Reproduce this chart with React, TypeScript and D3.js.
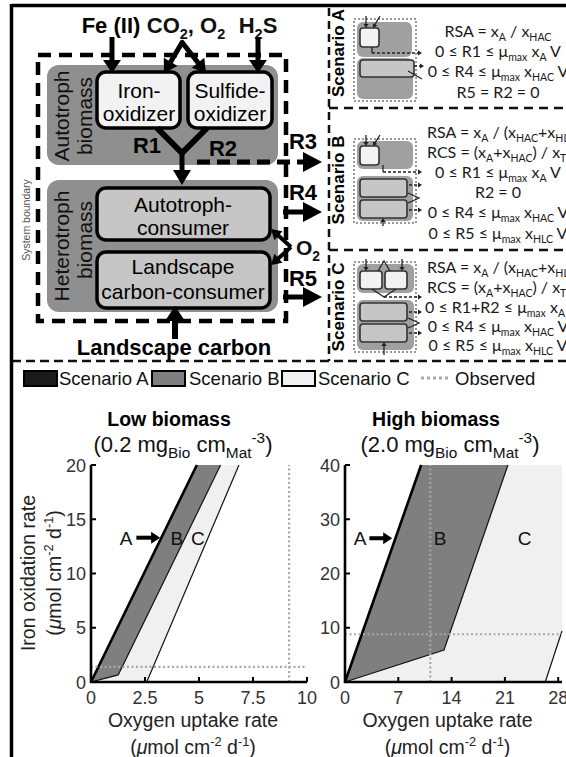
import React from 'react';
import * as d3 from 'd3';

// ---------------- DATA ----------------
const lowXTicks = [0, 2.5, 5, 7.5, 10];
const lowYTicks = [0, 5, 10, 15, 20];
const highXTicks = [0, 7, 14, 21, 28];
const highYTicks = [0, 10, 20, 30, 40];

// [oxygen uptake, iron oxidation]
const lowScenarioA = [[0, 0], [4.9, 20]];
const lowScenarioB = [[0, 0], [4.9, 20], [6.0, 20], [1.26, 0.65]];
const lowScenarioC = [[0, 0], [4.9, 20], [6.85, 20], [2.58, 0]];
const lowBEdge = [[0, 0], [1.26, 0.65], [6.0, 20]];
const lowCEdge = [[2.58, 0], [6.85, 20]];
const lowObserved = [9.17, 1.4];
const lowLabels = [
  { t: 'A', x: 1.62, y: 13.3 },
  { t: 'B', x: 3.98, y: 13.3 },
  { t: 'C', x: 4.95, y: 13.3 },
];
const lowArrow = [[2.1, 13.3], [3.2, 13.3]];

const highScenarioA = [[0, 0], [10.0, 40]];
const highScenarioB = [[0, 0], [10.0, 40], [21.4, 40], [13.0, 5.9]];
const highScenarioC = [[0, 0], [10.0, 40], [28.5, 40], [28.5, 9.4], [26.3, 0]];
const highBEdge = [[0, 0], [13.0, 5.9], [21.4, 40]];
const highCEdge = [[26.3, 0], [28.5, 9.4]];
const highObserved = [11.2, 8.8];
const highLabels = [
  { t: 'A', x: 1.97, y: 26.5 },
  { t: 'B', x: 12.5, y: 26.5 },
  { t: 'C', x: 23.6, y: 26.5 },
];
const highArrow = [[3.2, 26.5], [6.2, 26.5]];

const legendItems = ['Scenario A', 'Scenario B', 'Scenario C', 'Observed'];

// ---------------- STYLE ----------------
const FONT = "'Liberation Sans', Arial, sans-serif";
const EQFONT = "Lato, 'Open Sans', sans-serif";
const B_FILL = '#7f7f7f';
const C_FILL = '#f0f0f0';
const OBS = '#a8a8a8';
const BIO = '#8f8f8f';
const CONS = '#c6c6c6';
const OX = '#f2f2f2';

type Seg = string | { t: string; s?: 'sub' | 'sup'; i?: boolean };

function Rich({ x, y, segs, size, anchor = 'middle', weight = 'normal', family = FONT, fill = '#111', transform, subScale = 0.66 }: any) {
  let cur = 0;
  const spans = (segs as Seg[]).map((s, k) => {
    const obj = typeof s !== 'string';
    const txt = obj ? (s as any).t : s;
    const kind = obj ? (s as any).s : undefined;
    const target = kind === 'sub' ? size * 0.28 : kind === 'sup' ? -size * 0.42 : 0;
    const dy = target - cur;
    cur = target;
    return (
      <tspan key={k} dy={dy} fontSize={kind ? size * subScale : size} fontStyle={obj && (s as any).i ? 'italic' : 'normal'}>
        {txt}
      </tspan>
    );
  });
  return (
    <text x={x} y={y} textAnchor={anchor} fontWeight={weight} fontFamily={family} fill={fill} transform={transform} style={{ whiteSpace: 'pre' }}>
      {spans}
    </text>
  );
}

function Arrow({ x1, y1, x2, y2, sw = 5, hl = 14, hw = 9, dash, color = '#000' }: any) {
  const dx = x2 - x1, dy = y2 - y1;
  const L = Math.hypot(dx, dy);
  const ux = dx / L, uy = dy / L;
  const bx = x2 - ux * hl, by = y2 - uy * hl;
  const px = -uy, py = ux;
  return (
    <g>
      <line x1={x1} y1={y1} x2={bx + ux * 1} y2={by + uy * 1} stroke={color} strokeWidth={sw} strokeDasharray={dash} />
      <polygon points={`${x2},${y2} ${bx + px * hw},${by + py * hw} ${bx - px * hw},${by - py * hw}`} fill={color} />
    </g>
  );
}

const unitSegs: Seg[] = ['(', { t: 'μ', i: true }, 'mol cm', { t: '-2', s: 'sup' }, ' d', { t: '-1', s: 'sup' }, ')'];

function Panel({ xs, ys, xTicks, yTicks, A, Bp, Cp, Bedge, Cedge, obs, labels, arrow, cx, title, sub }: any) {
  const line = d3.line<number[]>().x(d => xs(d[0])).y(d => ys(d[1]));
  const [x0, x1] = xs.range();
  const [y0, y1] = ys.range();
  return (
    <g fontFamily={FONT}>
      <text x={cx - 14} y={426} textAnchor="middle" fontWeight="bold" fontSize={19.5}>{title}</text>
      <Rich x={cx} y={452} size={22} subScale={0.7} segs={sub} />
      <path d={line(Cp) + 'Z'} fill={C_FILL} />
      <path d={line(Bp) + 'Z'} fill={B_FILL} />
      <path d={line(Cedge)!} fill="none" stroke="#111" strokeWidth={1.2} />
      <path d={line(Bedge)!} fill="none" stroke="#111" strokeWidth={1.2} />
      <path d={line(A)!} fill="none" stroke="#000" strokeWidth={2.6} />
      <line x1={xs(obs[0])} x2={xs(obs[0])} y1={y0} y2={y1} stroke={OBS} strokeWidth={2.2} strokeDasharray="2 2.5" />
      <line x1={x0} x2={x1} y1={ys(obs[1])} y2={ys(obs[1])} stroke={OBS} strokeWidth={2.2} strokeDasharray="2 2.5" />
      {labels.map((l: any) => (
        <text key={l.t} x={xs(l.x)} y={ys(l.y) + 7} textAnchor="middle" fontSize={19} fill="#111">{l.t}</text>
      ))}
      <Arrow x1={xs(arrow[0][0])} y1={ys(arrow[0][1])} x2={xs(arrow[1][0])} y2={ys(arrow[1][1])} sw={4} hl={9} hw={6} />
      {/* axes */}
      <line x1={x0 - 1} x2={x1} y1={y0} y2={y0} stroke="#000" strokeWidth={2.6} />
      <line x1={x0} x2={x0} y1={y0 + 1} y2={y1} stroke="#000" strokeWidth={2.6} />
      {xTicks.map((t: number) => (
        <g key={'x' + t}>
          <line x1={xs(t)} x2={xs(t)} y1={y0} y2={y0 - 5} stroke="#000" strokeWidth={2} />
          <text x={xs(t)} y={y0 + 22} textAnchor="middle" fontSize={18} fill="#333">{t}</text>
        </g>
      ))}
      {yTicks.map((t: number) => (
        <g key={'y' + t}>
          <line x1={x0} x2={x0 + 5} y1={ys(t)} y2={ys(t)} stroke="#000" strokeWidth={2} />
          <text x={x0 - 5} y={ys(t) + 6.5} textAnchor="end" fontSize={18} fill="#333">{t}</text>
        </g>
      ))}
      <text x={(x0 + x1) / 2 - 6} y={727} textAnchor="middle" fontSize={19.5} fill="#222">Oxygen uptake rate</text>
      <Rich x={(x0 + x1) / 2 - 6} y={754} size={19.5} fill="#222" segs={unitSegs} />
    </g>
  );
}

function Box({ x, y, w, h, fill, sw = 3.5, r = 9 }: any) {
  return <rect x={x} y={y} width={w} height={h} rx={r} fill={fill} stroke="#000" strokeWidth={sw} />;
}

function Diagram() {
  return (
    <g fontFamily={FONT}>
      {/* inputs */}
      <text x={111} y={33} textAnchor="middle" fontWeight="bold" fontSize={22}>Fe (II)</text>
      <Rich x={186} y={33} size={22} weight="bold" segs={['CO', { t: '2', s: 'sub' }, ', O', { t: '2', s: 'sub' }]} />
      <Rich x={258} y={33} size={22} weight="bold" segs={['H', { t: '2', s: 'sub' }, 'S']} />
      {/* boundary */}
      <rect x={38} y={55} width={248} height={266} fill="none" stroke="#000" strokeWidth={4.5} strokeDasharray="13 8" />
      {/* biomass areas */}
      <rect x={47} y={65} width={231} height={100} rx={12} fill={BIO} />
      <rect x={47} y={180} width={231} height={132} rx={12} fill={BIO} />
      <text transform="translate(69,116) rotate(-90)" textAnchor="middle" fontSize={21} fill="#111">Autotroph</text>
      <text transform="translate(92,116) rotate(-90)" textAnchor="middle" fontSize={21} fill="#111">biomass</text>
      <text transform="translate(69,246) rotate(-90)" textAnchor="middle" fontSize={21} fill="#111">Heterotroph</text>
      <text transform="translate(92,240) rotate(-90)" textAnchor="middle" fontSize={21} fill="#111">biomass</text>
      <text transform="translate(30,220) rotate(-90)" textAnchor="middle" fontSize={10.5} fill="#555">System boundary</text>
      {/* arrows into boxes */}
      <Arrow x1={112} y1={37} x2={112} y2={73} sw={5} hl={13} hw={9} />
      <Arrow x1={258} y1={37} x2={258} y2={73} sw={5} hl={13} hw={9} />
      <Arrow x1={183} y1={41} x2={164} y2={73} sw={5} hl={13} hw={8} />
      <Arrow x1={181} y1={41} x2={206} y2={73} sw={5} hl={13} hw={8} />
      <Box x={97} y={72} w={83} h={56} fill={OX} />
      <Box x={188} y={72} w={84} h={56} fill={OX} />
      <text x={139} y={98} textAnchor="middle" fontSize={21}>Iron-</text>
      <text x={139} y={121} textAnchor="middle" fontSize={21}>oxidizer</text>
      <text x={230} y={98} textAnchor="middle" fontSize={21}>Sulfide-</text>
      <text x={230} y={121} textAnchor="middle" fontSize={21}>oxidizer</text>
      <text x={147} y={153} textAnchor="middle" fontWeight="bold" fontSize={22}>R1</text>
      <text x={223} y={156} textAnchor="middle" fontWeight="bold" fontSize={22}>R2</text>
      <polyline points="157,128 182,153 207,128" fill="none" stroke="#000" strokeWidth={6} />
      <Arrow x1={182} y1={150} x2={182} y2={185} sw={5} hl={15} hw={9} />
      {/* R3 */}
      <Arrow x1={197} y1={162} x2={322} y2={162} sw={5} hl={19} hw={10} dash="13 7" />
      <text x={303} y={149} textAnchor="middle" fontWeight="bold" fontSize={22}>R3</text>
      {/* heterotrophs */}
      <Box x={97} y={188} w={173} h={52} fill={CONS} />
      <Box x={97} y={252} w={173} h={56} fill={CONS} />
      <text x={183} y={212} textAnchor="middle" fontSize={21}>Autotroph-</text>
      <text x={183} y={235} textAnchor="middle" fontSize={21}>consumer</text>
      <text x={183} y={274} textAnchor="middle" fontSize={21}>Landscape</text>
      <text x={183} y={299} textAnchor="middle" fontSize={21}>carbon-consumer</text>
      <Arrow x1={283} y1={212} x2={322} y2={212} sw={5} hl={19} hw={10} />
      <text x={303} y={200} textAnchor="middle" fontWeight="bold" fontSize={22}>R4</text>
      <Arrow x1={283} y1={297} x2={322} y2={297} sw={5} hl={19} hw={10} />
      <text x={303} y={286} textAnchor="middle" fontWeight="bold" fontSize={22}>R5</text>
      <Arrow x1={291} y1={247} x2={271} y2={229} sw={4} hl={10} hw={6} />
      <Arrow x1={291} y1={247} x2={271} y2={265} sw={4} hl={10} hw={6} />
      <Rich x={296} y={255} size={21} weight="bold" anchor="start" segs={['O', { t: '2', s: 'sub' }]} />
      <Arrow x1={175} y1={339} x2={175} y2={306} sw={6} hl={15} hw={10} />
      <text x={174} y={355} textAnchor="middle" fontWeight="bold" fontSize={22}>Landscape carbon</text>
    </g>
  );
}

function MiniArrow({ x1, y1, x2, y2, dash }: any) {
  return <Arrow x1={x1} y1={y1} x2={x2} y2={y2} sw={1.3} hl={4} hw={2.6} dash={dash} color="#222" />;
}

function Minis() {
  const dot = { fill: 'none', stroke: '#333', strokeWidth: 1, strokeDasharray: '2 2' };
  const sb = { stroke: '#333', strokeWidth: 1.6 };
  return (
    <g>
      {/* A */}
      <rect x={354} y={19} width={62} height={82} {...dot} />
      <rect x={357} y={22} width={55} height={35} rx={6} fill={BIO} opacity={0.85} />
      <rect x={357} y={58} width={56} height={41} rx={6} fill={BIO} opacity={0.85} />
      <rect x={360} y={28} width={19} height={19} rx={3} fill={OX} {...sb} />
      <rect x={360} y={60} width={54} height={17} rx={3} fill={CONS} {...sb} />
      <MiniArrow x1={366} y1={16} x2={366} y2={28} />
      <MiniArrow x1={380} y1={16} x2={373} y2={28} />
      <polyline points="372,47 372,53" fill="none" stroke="#222" strokeWidth={1.3} />
      <MiniArrow x1={372} y1={53} x2={422} y2={53} dash="3 2" />
      <MiniArrow x1={414} y1={66} x2={424} y2={66} dash="3 2" />
      <line x1={408} y1={71} x2={422} y2={79} stroke="#222" strokeWidth={1.3} />
      {/* B */}
      <rect x={354} y={139} width={62} height={84} {...dot} />
      <rect x={357} y={141} width={56} height={28} rx={6} fill={BIO} opacity={0.85} />
      <rect x={357} y={176} width={56} height={45} rx={6} fill={BIO} opacity={0.85} />
      <rect x={360} y={146} width={19} height={19} rx={3} fill={OX} {...sb} />
      <rect x={360} y={179} width={47} height={18} rx={3} fill={CONS} {...sb} />
      <rect x={360} y={200} width={47} height={18} rx={3} fill={CONS} {...sb} />
      <MiniArrow x1={366} y1={135} x2={366} y2={146} />
      <MiniArrow x1={380} y1={135} x2={373} y2={146} />
      <polyline points="383,165 383,172" fill="none" stroke="#222" strokeWidth={1.3} />
      <MiniArrow x1={383} y1={172} x2={422} y2={172} dash="3 2" />
      <MiniArrow x1={409} y1={185} x2={422} y2={185} dash="3 2" />
      <MiniArrow x1={409} y1={210} x2={422} y2={210} dash="3 2" />
      <polyline points="408,193 419,198 408,203" fill="none" stroke="#222" strokeWidth={1.3} />
      <MiniArrow x1={383} y1={226} x2={383} y2={218} />
      {/* C */}
      <rect x={354} y={262} width={62} height={90} {...dot} />
      <rect x={357} y={264} width={57} height={29} rx={6} fill={BIO} opacity={0.85} />
      <rect x={357} y={300} width={57} height={50} rx={6} fill={BIO} opacity={0.85} />
      <rect x={360} y={271} width={22} height={18} rx={3} fill={OX} {...sb} />
      <rect x={385} y={271} width={22} height={18} rx={3} fill={OX} {...sb} />
      <rect x={360} y={303} width={47} height={18} rx={3} fill={CONS} {...sb} />
      <rect x={360} y={324} width={47} height={18} rx={3} fill={CONS} {...sb} />
      <MiniArrow x1={366} y1={259} x2={366} y2={271} />
      <MiniArrow x1={402} y1={259} x2={402} y2={271} />
      <polyline points="378,271 384,261 390,271" fill="none" stroke="#222" strokeWidth={1.3} />
      <polyline points="372,289 384,297 396,289" fill="none" stroke="#222" strokeWidth={1.3} />
      <MiniArrow x1={384} y1={297} x2={422} y2={297} dash="3 2" />
      <MiniArrow x1={409} y1={312} x2={422} y2={312} dash="3 2" />
      <MiniArrow x1={409} y1={333} x2={422} y2={333} dash="3 2" />
      <polyline points="408,318 419,323 408,328" fill="none" stroke="#222" strokeWidth={1.3} />
      <MiniArrow x1={384} y1={355} x2={384} y2={342} />
    </g>
  );
}

function Equations() {
  const s = 16;
  const c = 498;
  const mu: Seg[] = ['μ', { t: 'max', s: 'sub' }];
  const rows: { y: number; x?: number; segs: Seg[] }[] = [
    { y: 37, segs: ['RSA = x', { t: 'A', s: 'sub' }, ' / x', { t: 'HAC', s: 'sub' }] },
    { y: 57, segs: ['0 ≤ R1 ≤ ', ...mu, ' x', { t: 'A', s: 'sub' }, ' V'] },
    { y: 77, segs: ['0 ≤ R4 ≤ ', ...mu, ' x', { t: 'HAC', s: 'sub' }, ' V'] },
    { y: 98, segs: ['R5 = R2 = 0'] },
    { y: 138, x: 427, segs: ['RSA = x', { t: 'A', s: 'sub' }, ' / (x', { t: 'HAC', s: 'sub' }, '+x', { t: 'HLC', s: 'sub' }, ')'] },
    { y: 158, x: 427, segs: ['RCS = (x', { t: 'A', s: 'sub' }, '+x', { t: 'HAC', s: 'sub' }, ') / x', { t: 'TOT', s: 'sub' }] },
    { y: 178, segs: ['0 ≤ R1 ≤ ', ...mu, ' x', { t: 'A', s: 'sub' }, ' V'] },
    { y: 198, segs: ['R2 = 0'] },
    { y: 218, segs: ['0 ≤ R4 ≤ ', ...mu, ' x', { t: 'HAC', s: 'sub' }, ' V'] },
    { y: 239, segs: ['0 ≤ R5 ≤ ', ...mu, ' x', { t: 'HLC', s: 'sub' }, ' V'] },
    { y: 273, x: 427, segs: ['RSA = x', { t: 'A', s: 'sub' }, ' / (x', { t: 'HAC', s: 'sub' }, '+x', { t: 'HLC', s: 'sub' }, ')'] },
    { y: 293, x: 427, segs: ['RCS = (x', { t: 'A', s: 'sub' }, '+x', { t: 'HAC', s: 'sub' }, ') / x', { t: 'TOT', s: 'sub' }] },
    { y: 313, x: 425, segs: ['0 ≤ R1+R2 ≤ ', ...mu, ' x', { t: 'A', s: 'sub' }, ' V'] },
    { y: 332, segs: ['0 ≤ R4 ≤ ', ...mu, ' x', { t: 'HAC', s: 'sub' }, ' V'] },
    { y: 351, segs: ['0 ≤ R5 ≤ ', ...mu, ' x', { t: 'HLC', s: 'sub' }, ' V'] },
  ];
  return (
    <g>
      {rows.map((r, i) => (
        <Rich key={i} x={r.x ?? c} y={r.y} size={s} family={EQFONT} fill="#1a1a1a" anchor={r.x ? 'start' : 'middle'} segs={r.segs} />
      ))}
      <text transform="translate(344,53) rotate(-90)" textAnchor="middle" fontFamily={FONT} fontWeight="bold" fontSize={17}>Scenario A</text>
      <text transform="translate(344,180) rotate(-90)" textAnchor="middle" fontFamily={FONT} fontWeight="bold" fontSize={17}>Scenario B</text>
      <text transform="translate(344,307) rotate(-90)" textAnchor="middle" fontFamily={FONT} fontWeight="bold" fontSize={17}>Scenario C</text>
    </g>
  );
}

function Legend() {
  const sw = [
    { x: 24, fill: '#1a1a1a', tx: 59 },
    { x: 152, fill: B_FILL, tx: 189 },
    { x: 282, fill: C_FILL, tx: 318 },
  ];
  return (
    <g fontFamily={FONT} fontSize={18.5}>
      {sw.map((s, i) => (
        <g key={i}>
          <rect x={s.x} y={371} width={33} height={15} fill={s.fill} stroke="#000" strokeWidth={2} />
          <text x={s.tx} y={385} fill="#111">{legendItems[i]}</text>
        </g>
      ))}
      <line x1={421} x2={451} y1={378} y2={378} stroke={OBS} strokeWidth={3} strokeDasharray="3 3" />
      <text x={455} y={385} fill="#111">{legendItems[3]}</text>
    </g>
  );
}

export default function App() {
  const lowX = d3.scaleLinear().domain([0, 10]).range([91, 307]);
  const lowY = d3.scaleLinear().domain([0, 20]).range([682, 465]);
  const highX = d3.scaleLinear().domain([0, 28.5]).range([345, 562]);
  const highY = d3.scaleLinear().domain([0, 40]).range([682, 465]);
  return (
    <svg width={566} height={757} style={{ position: 'absolute', left: 0, top: 0, background: '#fff' }}>
      <rect width={566} height={757} fill="#fff" />
      <Diagram />
      <Minis />
      <Equations />
      {/* separators */}
      <line x1={329} x2={329} y1={8} y2={361} stroke="#111" strokeWidth={2.5} strokeDasharray="8 5" />
      <line x1={329} x2={566} y1={108} y2={108} stroke="#111" strokeWidth={2.5} strokeDasharray="9 6" />
      <line x1={329} x2={566} y1={250} y2={250} stroke="#111" strokeWidth={2.5} strokeDasharray="9 6" />
      <line x1={12} x2={566} y1={361} y2={361} stroke="#111" strokeWidth={2.5} strokeDasharray="9 5" />
      {/* outer border */}
      <line x1={11.5} x2={566} y1={5.5} y2={5.5} stroke="#000" strokeWidth={3.5} />
      <line x1={11.5} x2={11.5} y1={4} y2={757} stroke="#000" strokeWidth={3.5} />
      <Legend />
      <Panel xs={lowX} ys={lowY} xTicks={lowXTicks} yTicks={lowYTicks} A={lowScenarioA} Bp={lowScenarioB} Cp={lowScenarioC}
        Bedge={lowBEdge} Cedge={lowCEdge} obs={lowObserved} labels={lowLabels} arrow={lowArrow} cx={183} title="Low biomass"
        sub={['(0.2 mg', { t: 'Bio', s: 'sub' }, ' cm', { t: 'Mat', s: 'sub' }, { t: '-3', s: 'sup' }, ')']} />
      <Panel xs={highX} ys={highY} xTicks={highXTicks} yTicks={highYTicks} A={highScenarioA} Bp={highScenarioB} Cp={highScenarioC}
        Bedge={highBEdge} Cedge={highCEdge} obs={highObserved} labels={highLabels} arrow={highArrow} cx={450} title="High biomass"
        sub={['(2.0 mg', { t: 'Bio', s: 'sub' }, ' cm', { t: 'Mat', s: 'sub' }, { t: '-3', s: 'sup' }, ')']} />
      <text transform="translate(35,573) rotate(-90)" textAnchor="middle" fontFamily={FONT} fontSize={19.5} fill="#222">Iron oxidation rate</text>
      <Rich transform="translate(61,573) rotate(-90)" x={0} y={0} size={19.5} fill="#222" segs={unitSegs} />
    </svg>
  );
}
